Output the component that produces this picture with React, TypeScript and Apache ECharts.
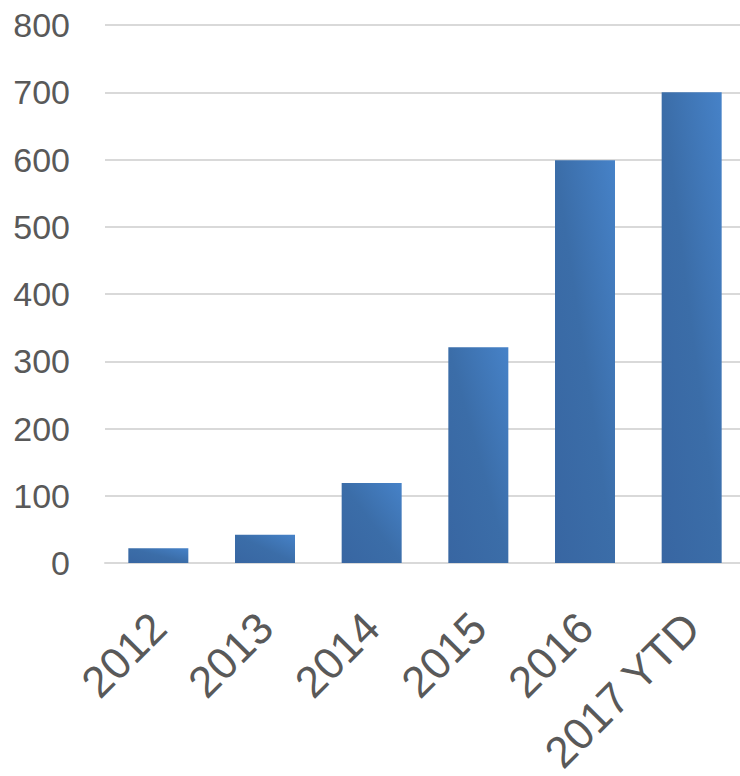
import React, { useEffect, useRef } from "react";
import * as echarts from "echarts";

const categories = ["2012", "2013", "2014", "2015", "2016", "2017 YTD"];
const values = [22, 42, 119, 321, 599, 700];
const yTicks = { min: 0, max: 800, interval: 100 };

export default function App() {
  const ref = useRef<HTMLDivElement>(null);
  useEffect(() => {
    if (!ref.current) return;
    const chart = echarts.init(ref.current, undefined, { renderer: "svg" });
    chart.setOption({
      animation: false,
      grid: {
        left: 105,
        right: 15,
        top: 25,
        bottom: 213,
        containLabel: false,
        outerBoundsMode: "none",
      },
      xAxis: {
        type: "category",
        data: categories,
        axisLine: { lineStyle: { color: "#D9D9D9", width: 2 } },
        axisTick: { show: false },
        axisLabel: {
          rotate: 45,
          margin: 57,
          fontFamily: "Liberation Sans",
          fontSize: 44,
          color: "#595959",
          interval: 0,
        },
      },
      yAxis: {
        type: "value",
        min: yTicks.min,
        max: yTicks.max,
        interval: yTicks.interval,
        axisLine: { show: false },
        axisTick: { show: false },
        splitLine: { lineStyle: { color: "#D9D9D9", width: 2 } },
        axisLabel: {
          margin: 35,
          fontFamily: "Liberation Sans",
          fontSize: 34,
          color: "#595959",
        },
      },
      series: [
        {
          type: "bar",
          data: values,
          barWidth: 60,
          itemStyle: {
            color: new echarts.graphic.LinearGradient(0, 1, 1, 0, [
              { offset: 0, color: "#3866A2" },
              { offset: 0.5, color: "#3B6DA8" },
              { offset: 1, color: "#4682C8" },
            ]),
          },
        },
      ],
    });
    return () => chart.dispose();
  }, []);
  return (
    <div
      style={{
        position: "absolute",
        left: 0,
        top: 0,
        width: 740,
        height: 776,
        overflow: "hidden",
        background: "#fff",
      }}
    >
      <div ref={ref} style={{ width: 760, height: 776 }} />
    </div>
  );
}
